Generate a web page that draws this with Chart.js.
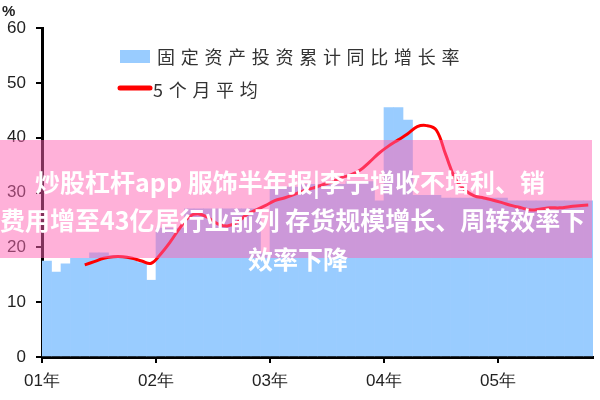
<!DOCTYPE html>
<html>
<head>
<meta charset="utf-8">
<script src="https://cdn.jsdelivr.net/npm/chart.js@4"></script>
<style>
  body { margin: 0; background: #fff; }
  #wrap { position: relative; width: 600px; height: 400px; overflow: hidden; }
  #unit { position: absolute; left: 2px; top: 2px; font: bold 15px "Liberation Sans", sans-serif; color: #222; }
  #banner { position: absolute; left: 0; top: 140px; width: 592px; height: 118px; background: rgba(255, 100, 180, 0.5); }
  .bt { position: absolute; white-space: nowrap; color: #fff; font: bold 25px "Noto Sans CJK SC", sans-serif; line-height: 30px; }
</style>
</head>
<body>
<div id="wrap">
  <canvas id="myChart" width="600" height="400"></canvas>
  <div id="unit">%</div>
  <div id="banner"></div>
  <div class="bt" style="left:35px; top:166px;">炒股杠杆app 服饰半年报|李宁增收不增利、销</div>
  <div class="bt" style="left:0px; top:204px;">费用增至43亿居行业前列 存货规模增长、周转效率下</div>
  <div class="bt" style="left:248px; top:243px;">效率下降</div>
</div>
<script>
// nhãn năm trên trục x
var yearLabels = ['01年', '02年', '03年', '04年', '05年'];
var yTicks = [0, 10, 20, 30, 40, 50, 60];

// 固定资产投资累计同比增长率, theo tháng từ 01年1月
var fixedInvest = [
    17.5, 15.5, 17, 18, 18, 19, 19, 18.5, 18, 18, 17.2, 14,
    23.5, 23.5, 23.5, 27, 27, 27, 27, 27, 27, 27, 27, 19,
    31, 31, 31, 31.5, 31.5, 31.5, 31.5, 31.5, 32, 32, 32, 28.5,
    45.5, 45.5, 43.2, 29.5, 29.5, 29.5, 29, 29, 29, 29, 29, 29,
    29, 28.5, 28.5, 28.5, 28.5, 28.5, 28.5, 28.5, 28.5, 28.5
];

// 5个月平均, bắt đầu từ tháng thứ 5
var avgStart = 4;
var avg5 = [
    16.8, 17.4, 18.0, 18.3, 18.3, 18.0, 17.5, 17.1,
    18.8, 21.0, 23.5, 25.6, 26.1, 25.4, 24.3, 23.9, 24.5, 25.9, 26.8, 27.6,
    28.5, 29.0, 29.6, 30.3, 30.8, 31.4, 31.9, 32.7, 33.2, 34.1, 35.6, 37.2,
    38.5, 39.6, 40.7, 42.0, 42.2, 41.4, 36.9, 32.5, 30.5, 29.4, 29.0, 28.6,
    28.1, 27.6, 27.2, 26.8, 27.0, 27.2, 27.2, 27.4, 27.6, 27.7
];

var barData = fixedInvest.map(function (v, i) { return { x: i + 0.5, y: v }; });
var lineData = avg5.map(function (v, i) { return { x: i + avgStart + 0.5, y: v }; });

// vẽ chú thích bên trong vùng biểu đồ
function drawSpaced(ctx, text, x, y, gap) {
    for (var k = 0; k < text.length; k++) {
        var ch = text[k];
        ctx.fillText(ch, x, y);
        x += ctx.measureText(ch).width + gap;
    }
}

var legendInside = {
    id: 'legendInside',
    afterDraw: function (chart) {
        var ctx = chart.ctx;
        var ds = chart.data.datasets;
        ctx.save();
        ctx.fillStyle = ds[1].backgroundColor;
        ctx.fillRect(120, 50, 30, 13);
        ctx.strokeStyle = ds[0].borderColor;
        ctx.lineWidth = 5;
        ctx.lineCap = 'round';
        ctx.beginPath();
        ctx.moveTo(120, 88);
        ctx.lineTo(150, 88);
        ctx.stroke();
        ctx.fillStyle = '#333';
        ctx.font = '18px "Noto Sans CJK SC"';
        ctx.textBaseline = 'middle';
        drawSpaced(ctx, ds[1].label, 157, 57, 5.7);
        drawSpaced(ctx, ds[0].label, 153, 90, 5.7);
        ctx.restore();
    }
};

var chart = new Chart('myChart', {
    type: 'bar',
    data: {
        datasets: [{
            type: 'line',
            label: '5个月平均',
            data: lineData,
            borderColor: '#ff0000',
            borderWidth: 3,
            pointRadius: 0,
            tension: 0.4,
            fill: false,
            order: 0
        }, {
            type: 'bar',
            label: '固定资产投资累计同比增长率',
            data: barData,
            backgroundColor: '#99ccff',
            borderColor: '#99ccff',
            borderWidth: 0,
            barPercentage: 1.0,
            categoryPercentage: 1.0,
            order: 1
        }]
    },
    options: {
        responsive: false,
        animation: false,
        devicePixelRatio: 1,
        layout: { padding: { top: 28, right: 7, left: 0, bottom: 0 } },
        plugins: {
            legend: { display: false },
            tooltip: { enabled: false }
        },
        scales: {
            x: {
                type: 'linear',
                offset: false,
                min: 0,
                max: fixedInvest.length,
                afterBuildTicks: function (scale) {
                    scale.ticks = yearLabels.map(function (l, i) { return { value: i * 12 }; });
                },
                afterFit: function (scale) { scale.height = 43; },
                border: { display: true, color: '#000', width: 3 },
                grid: { offset: false, drawOnChartArea: false, drawTicks: true, tickLength: 6, color: '#000', lineWidth: 2 },
                ticks: {
                    autoSkip: false,
                    maxRotation: 0,
                    padding: 8,
                    color: '#222',
                    font: { family: 'Liberation Sans', size: 17 },
                    callback: function (v) { return yearLabels[v / 12]; }
                }
            },
            y: {
                min: yTicks[0],
                max: yTicks[yTicks.length - 1],
                afterFit: function (scale) { scale.width = 42; },
                border: { display: true, color: '#000', width: 3 },
                grid: { drawOnChartArea: false, drawTicks: true, tickLength: 6, color: '#000', lineWidth: 2 },
                ticks: {
                    stepSize: 10,
                    padding: 10,
                    color: '#222',
                    font: { family: 'Liberation Sans', size: 17 }
                }
            }
        }
    },
    plugins: [legendInside]
});
</script>
</body>
</html>
